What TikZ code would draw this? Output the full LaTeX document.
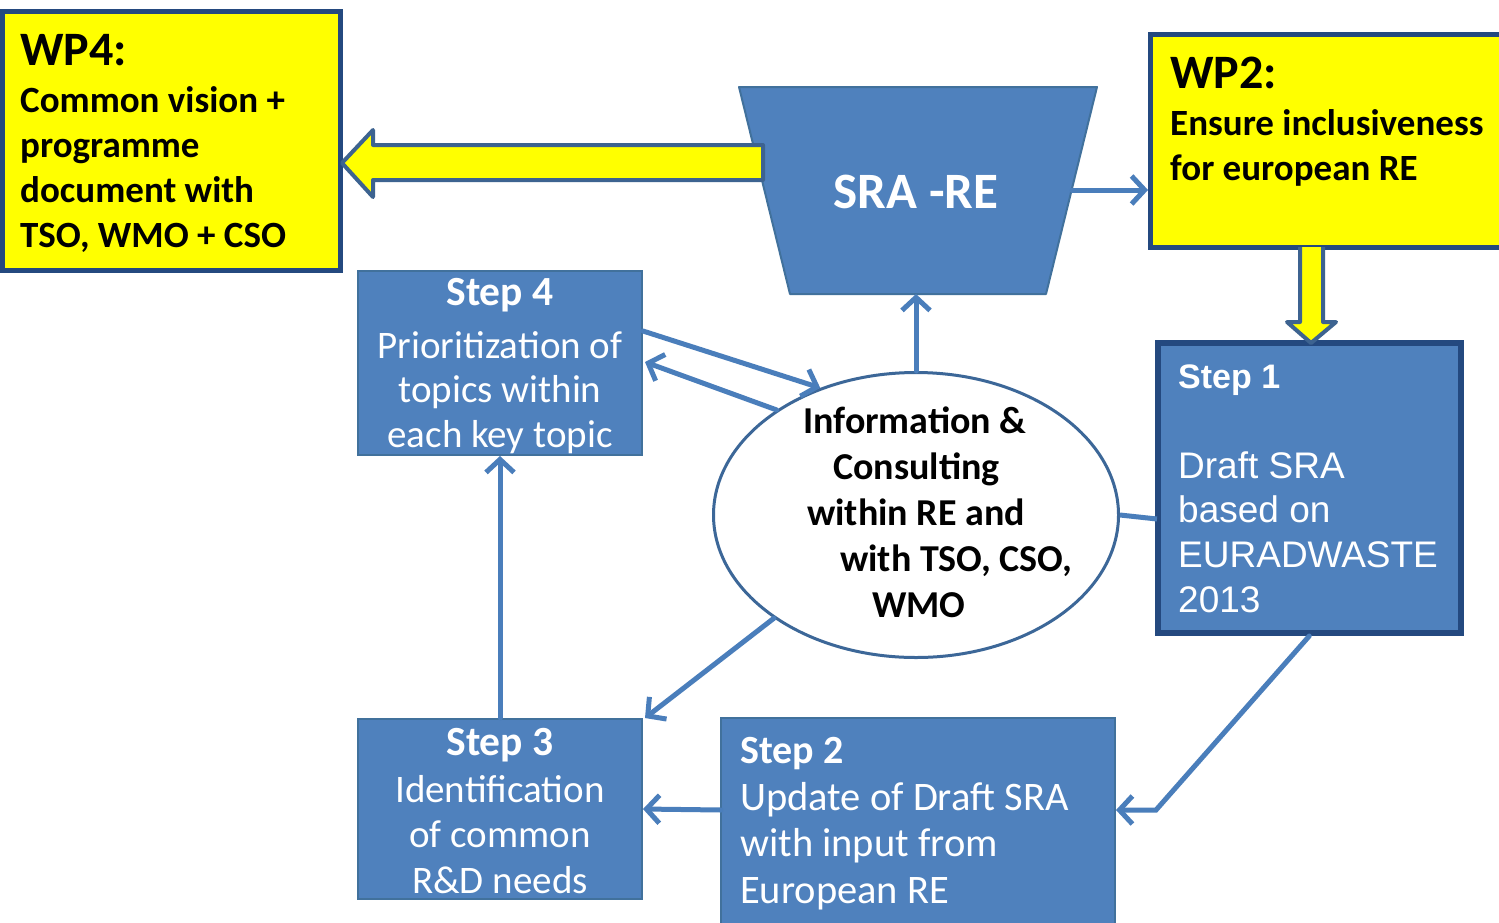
\documentclass[tikz,border=0pt]{standalone}
\usepackage{fontspec}
\setmainfont{Carlito}
\newfontfamily\arialfont{Liberation Sans}
\usetikzlibrary{arrows.meta,shapes.geometric,calc}
\definecolor{boxblue}{HTML}{4F81BD}
\definecolor{navy}{HTML}{24497F}
\definecolor{edgeblue}{HTML}{41719C}
\definecolor{ellblue}{HTML}{3C6798}
\definecolor{linkblue}{HTML}{4A7EBB}
\definecolor{yarrowedge}{HTML}{3D6390}
\definecolor{wpyellow}{HTML}{FFFF00}
\begin{document}
\begin{tikzpicture}[x=1pt,y=-1pt,
  wpbox/.style={draw=navy, line width=5pt, fill=wpyellow, inner sep=0pt, rectangle},
  stepbox/.style={draw=edgeblue, line width=2pt, fill=boxblue, inner sep=0pt, rectangle},
  firstbox/.style={draw=navy, line width=6pt, fill=boxblue, inner sep=0pt, rectangle},
  infobox/.style={draw=ellblue, line width=3pt, fill=white, ellipse, inner sep=0pt},
  link/.style={draw=linkblue, line width=5pt, line cap=round, -{Straight Barb[length=13pt,width=28pt]}},
  plainlink/.style={draw=linkblue, line width=5pt},
  yarrow/.style={draw=yarrowedge, line width=4pt, fill=wpyellow, line join=round},
  lefttxt/.style={inner sep=0pt, anchor=base west, align=flush left, text width=#1},
  midtxt/.style={inner sep=0pt, anchor=base, align=flush center, text width=#1},
]
\clip (0,0) rectangle (1499,922);
\fill[white] (0,0) rectangle (1499,922);

% boxes
\node[wpbox, minimum width=337.5pt, minimum height=258.5pt] (wp4) at (171.25,140.75) {};
\node[wpbox, minimum width=359.5pt, minimum height=213pt] (wp2) at (1330.25,141) {};
\node[firstbox, minimum width=302.5pt, minimum height=290pt] (step1) at (1309.25,488) {};
\node[stepbox, minimum width=284pt, minimum height=184pt] (step4) at (500,363) {};
\node[stepbox, minimum width=284pt, minimum height=180pt] (step3) at (500,809) {};
\node[stepbox, minimum width=394pt, minimum height=208pt] (step2) at (918,822) {};
\node[infobox, minimum width=405pt, minimum height=285pt] (info) at (916,515) {};

% trapezoid SRA-RE
\coordinate (sraTL) at (739,87);
\coordinate (sraTR) at (1097,87);
\coordinate (sraBR) at (1046,294);
\coordinate (sraBL) at (790,294);
\coordinate (sraB) at (916,294);
\coordinate (sraR) at (1072,190);
\draw[draw=edgeblue, line width=2pt, fill=boxblue, line join=round] (sraTL) -- (sraTR) -- (sraBR) -- (sraBL) -- cycle;
\node[inner sep=0pt, text=white, font=\bfseries\fontsize{51}{58}\selectfont] (sra) at (916,192) {SRA -RE};

% texts
\node[lefttxt=320pt, font=\bfseries\fontsize{48}{56}\selectfont] (wp4title) at (20,65) {WP4:};
\node[lefttxt=320pt, font=\bfseries\fontsize{37}{45.3}\selectfont] (wp4body) at (20,112)
  {Common vision +\\programme\\document with\\TSO, WMO + CSO};
\node[lefttxt=330pt, font=\bfseries\fontsize{48}{56}\selectfont] (wp2title) at (1170,88) {WP2:};
\node[lefttxt=330pt, font=\bfseries\fontsize{37}{45}\selectfont] (wp2body) at (1170,135)
  {Ensure inclusiveness\\for european RE};

\node[lefttxt=280pt, text=white, font=\arialfont\bfseries\fontsize{34}{40}\selectfont] (s1title) at (1178,388) {Step 1};
\node[lefttxt=290pt, text=white, font=\arialfont\fontsize{37}{44.7}\selectfont] (s1body) at (1178,478)
  {Draft SRA\\based on\\EURADWASTE\\2013};

\node[midtxt=284pt, text=white, font=\bfseries\fontsize{41.5}{46}\selectfont] (s4title) at (500,305) {Step 4};
\node[midtxt=284pt, text=white, font=\fontsize{39}{44.5}\selectfont] (s4body) at (500,358)
  {Prioritization of\\topics within\\each key topic};

\node[midtxt=284pt, text=white, font=\bfseries\fontsize{41.5}{46}\selectfont] (s3title) at (500,755) {Step 3};
\node[midtxt=284pt, text=white, font=\fontsize{39}{45.5}\selectfont] (s3body) at (500,802)
  {Identification\\of common\\R\&D needs};

\node[lefttxt=380pt, text=white, font=\bfseries\fontsize{40}{46}\selectfont] (s2title) at (740,763) {Step 2};
\node[lefttxt=380pt, text=white, font=\fontsize{40.5}{46.5}\selectfont] (s2body) at (740,810)
  {Update of Draft SRA\\with input from\\European RE};

\node[lefttxt=330pt, font=\bfseries\fontsize{38}{46.2}\selectfont] (infotxt) at (803,433)
  {Information \&\\
   \hspace*{30pt}Consulting\\
   \hspace*{4pt}within RE and\\
   \hspace*{37pt}with TSO, CSO,\\
   \hspace*{69pt}WMO};

% connectors
\coordinate (s4out) at (643,331);
\coordinate (s4in) at (645,362);
\coordinate (s3in) at (645,718);
\coordinate (s1in) at (1157,519);
\coordinate (bend) at (1156,810);
\coordinate (s2in) at (1116,810);
\coordinate (s2out) at (721,810);
\coordinate (wp2in) at (1148,190);
\draw[link] (info.north) -- (sraB);
\draw[link] (s4out) -- (info.127);
\draw[link] (info.143) -- (s4in);
\draw[link] (info.216) -- (s3in);
\draw[link] (step3.north) -- (step4.south);
\draw[link] (s2out) -- (step3.east);
\draw[plainlink] (info.east) -- (s1in);
\draw[link] (step1.south) -- (bend) -- (s2in);
\draw[link] (sraR) -- (wp2in);

% yellow block arrows
\coordinate (tip4) at (342,163);
\coordinate (tip1) at (1311,343);
\draw[yarrow] (763,145) -- (373,145) -- (373,130) -- (tip4) -- (373,197) -- (373,180) -- (763,180) -- cycle;
\draw[yarrow] (1300,247) -- (1300,322) -- (1287,322) -- (tip1) -- (1336,322) -- (1323,322) -- (1323,247);
\end{tikzpicture}
\end{document}
